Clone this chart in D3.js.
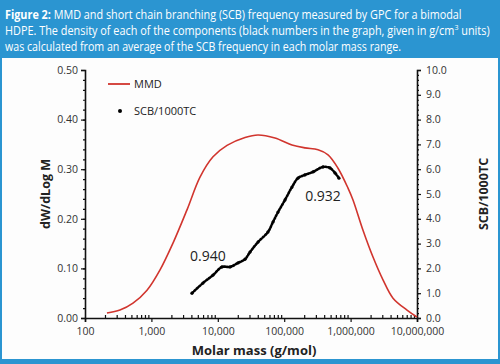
<!DOCTYPE html>
<html>
<head>
<meta charset="utf-8">
<script src="https://cdn.jsdelivr.net/npm/d3@7"></script>
<style>
  body { margin: 0; background: #fff; }
  svg { display: block; font-family: "Open Sans", "Noto Sans", sans-serif; }
</style>
</head>
<body>
<div id="chart"></div>
<script>
// MMD curve (molar mass g/mol, dW/dLog M)
const mmdMass = [214, 336, 528, 859, 1349, 2115, 3434, 5394, 8472, 13770, 25700, 40300,
  72600, 131000, 205000, 323000, 457000, 646000, 914000, 1087000, 1537000, 2174000,
  3075000, 4350000, 7070000, 10000000];
const mmdValue = [0.010, 0.016, 0.030, 0.056, 0.097, 0.151, 0.218, 0.284, 0.325, 0.348, 0.364, 0.369,
  0.363, 0.349, 0.343, 0.339, 0.329, 0.302, 0.262, 0.238, 0.177, 0.123,
  0.077, 0.040, 0.016, 0.002];

// SCB frequency (molar mass g/mol, SCB/1000TC)
const scbMass = [4080, 5980, 8470, 11570, 15270, 20150, 25700, 30560, 40300, 57000, 67800,
  80700, 102800, 131000, 161000, 205000, 271000, 384000, 489000, 582000, 668000];
const scbValue = [1.0, 1.41, 1.73, 2.06, 2.06, 2.22, 2.37, 2.66, 3.06, 3.47, 3.87,
  4.27, 4.76, 5.28, 5.64, 5.77, 5.89, 6.09, 6.05, 5.85, 5.64];

const xTicks = [100, 1000, 10000, 100000, 1000000, 10000000];
const leftTicks = [0, 0.1, 0.2, 0.3, 0.4, 0.5];
const rightTicks = [0, 1, 2, 3, 4, 5, 6, 7, 8, 9, 10];

const densityLabels = [
  { text: "0.940", mass: 7100, value: 0.115 },
  { text: "0.932", mass: 384000, value: 0.235 }
];

const W = 500, H = 364;
const blue = "#2b95d1", red = "#d1352e", ink = "#333";

const svg = d3.select("#chart").append("svg").attr("width", W).attr("height", H);

// header band + frame
svg.append("rect").attr("x", 0).attr("y", 0).attr("width", W).attr("height", H).attr("fill", blue);
svg.append("rect").attr("x", 2).attr("y", 58).attr("width", W - 4).attr("height", 301).attr("fill", "#fdfdfd");

const titleLines = [
  ["Figure 2:", " MMD and short chain branching (SCB) frequency measured by GPC for a bimodal"],
  ["", "HDPE. The density of each of the components (black numbers in the graph, given in g/cm"],
  ["", "was calculated from an average of the SCB frequency in each molar mass range."]
];
const titleWidths = [457, 485, 396];
titleLines.forEach((l, i) => {
  const t = svg.append("text").attr("x", 0).attr("y", 0)
    .attr("fill", "#fff").attr("font-size", 12.3);
  if (l[0]) t.append("tspan").attr("font-weight", "bold").text(l[0]);
  t.append("tspan").text(l[1]);
  if (i == 1) {
    t.append("tspan").attr("font-size", 8).attr("dy", -5).text("3");
    t.append("tspan").attr("dy", 5).text(" units)");
  }
  const w = t.node().getBBox().width;
  t.attr("transform", `translate(5,${19 + i * 16})scale(${titleWidths[i] / w},1)`);
});

// scales
const x = d3.scaleLog().domain([100, 1e7]).range([85, 417]);
const y = d3.scaleLinear().domain([0, 0.5]).range([318, 70]);
const y2 = d3.scaleLinear().domain([0, 10]).range([318, 70]);

const fmtX = d3.format(",");

// minor ticks
const minorX = [];
for (let e = 2; e < 7; e++) for (let m = 2; m < 10; m++) minorX.push(m * Math.pow(10, e));

svg.append("g").attr("transform", "translate(0,318)")
  .call(d3.axisBottom(x).tickValues(minorX).tickSize(-3).tickFormat(""))
  .call(g => g.select(".domain").remove());
svg.append("g").attr("transform", "translate(85,0)")
  .call(d3.axisLeft(y).tickValues(d3.range(0, 0.501, 0.02)).tickSize(2).tickFormat(""))
  .call(g => g.select(".domain").remove());
svg.append("g").attr("transform", "translate(417,0)")
  .call(d3.axisRight(y2).tickValues(d3.range(0, 10.01, 0.2)).tickSize(2).tickFormat(""))
  .call(g => g.select(".domain").remove());

// main axes
const xAxis = svg.append("g").attr("transform", "translate(0,318)")
  .call(d3.axisBottom(x).tickValues(xTicks).tickSize(4).tickPadding(6).tickFormat(fmtX));
const yAxis = svg.append("g").attr("transform", "translate(85,0)")
  .call(d3.axisLeft(y).tickValues(leftTicks).tickSize(4).tickPadding(3).tickFormat(d3.format(".2f")));
const y2Axis = svg.append("g").attr("transform", "translate(417,0)")
  .call(d3.axisRight(y2).tickValues(rightTicks).tickSize(4).tickPadding(5).tickFormat(d3.format(".1f")));

svg.selectAll(".domain").attr("stroke", "#111").attr("stroke-width", 1.6);
svg.selectAll(".tick line").attr("stroke", "#111").attr("stroke-width", 1.2);
svg.selectAll(".tick text").attr("fill", ink).attr("font-size", 10.5)
  .attr("font-family", "'Open Sans', 'Noto Sans', sans-serif");
y2Axis.selectAll(".tick text").attr("dy", "0.3em");

// axis titles
svg.append("text").attr("x", 254).attr("y", 355).attr("text-anchor", "middle")
  .attr("font-weight", "bold").attr("font-size", 13).attr("fill", "#222").text("Molar mass (g/mol)");
svg.append("text").attr("transform", "translate(50,194)rotate(-90)").attr("text-anchor", "middle")
  .attr("font-weight", "bold").attr("font-size", 12.5).attr("fill", "#222").text("dW/dLog M");
svg.append("text").attr("transform", "translate(488,194)rotate(-90)").attr("text-anchor", "middle")
  .attr("font-weight", "bold").attr("font-size", 12.5).attr("fill", "#222").text("SCB/1000TC");

// MMD line
svg.append("path")
  .datum(mmdMass.map((m, i) => [m, mmdValue[i]]))
  .attr("fill", "none").attr("stroke", red).attr("stroke-width", 1.6)
  .attr("d", d3.line().x(d => x(d[0])).y(d => y(d[1])).curve(d3.curveCatmullRom.alpha(0.5)));

// SCB dotted trace
const scb = scbMass.map((m, i) => [m, scbValue[i]]);
svg.append("path").datum(scb)
  .attr("fill", "none").attr("stroke", "#000").attr("stroke-width", 2.6)
  .attr("stroke-linecap", "round").attr("stroke-dasharray", "1.6 1.6")
  .attr("d", d3.line().x(d => x(d[0])).y(d => y2(d[1])).curve(d3.curveCatmullRom.alpha(0.5)));
svg.selectAll(".scb-dot").data(scb).enter().append("circle")
  .attr("class", "scb-dot")
  .attr("cx", d => x(d[0])).attr("cy", d => y2(d[1])).attr("r", 1.6).attr("fill", "#000");

// density labels
svg.selectAll(".dens").data(densityLabels).enter().append("text")
  .attr("class", "dens")
  .attr("x", d => x(d.mass)).attr("y", d => y(d.value))
  .attr("text-anchor", "middle").attr("font-size", 14).attr("fill", "#222")
  .text(d => d.text);

// legend
svg.append("line").attr("x1", 108).attr("x2", 130).attr("y1", 84).attr("y2", 84)
  .attr("stroke", red).attr("stroke-width", 1.8);
svg.append("text").attr("x", 134).attr("y", 88).attr("font-size", 11).attr("fill", "#222").text("MMD");
svg.append("circle").attr("cx", 120).attr("cy", 111).attr("r", 2).attr("fill", "#000");
svg.append("text").attr("x", 134).attr("y", 115).attr("font-size", 11).attr("fill", "#222").text("SCB/1000TC");
</script>
</body>
</html>
